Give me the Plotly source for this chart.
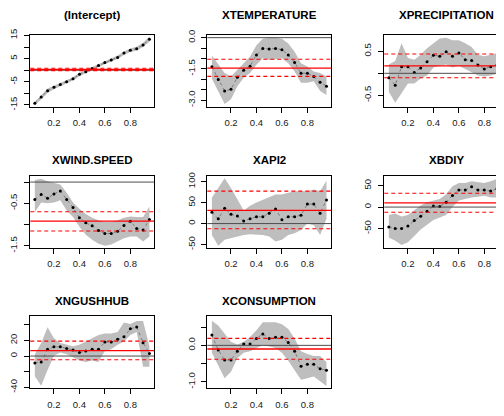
import plotly.graph_objects as go

taus = [0.05, 0.10, 0.15, 0.20, 0.25, 0.30, 0.35, 0.40, 0.45, 0.50,
        0.55, 0.60, 0.65, 0.70, 0.75, 0.80, 0.85, 0.90, 0.95]

names = ["(Intercept)", "XTEMPERATURE", "XPRECIPITATION", "XWIND.SPEED",
         "XAPI2", "XBDIY", "XNGUSHHUB", "XCONSUMPTION"]

intercept_coef = [-14.3, -11.6, -8.9, -7.4, -6.2, -5.0, -3.7, -1.8, -0.7, 0.7,
                  2.0, 3.3, 4.4, 5.5, 7.4, 8.6, 9.3, 10.9, 13.4]
intercept_lower = [-15.2, -12.4, -9.9, -8.2, -6.9, -5.7, -4.4, -2.6, -1.4, 0.0,
                   1.3, 2.6, 3.7, 4.8, 6.6, 7.8, 8.5, 10.0, 12.3]
intercept_upper = [-13.5, -10.8, -7.9, -6.6, -5.5, -4.3, -3.0, -1.1, 0.0, 1.4,
                   2.7, 4.0, 5.1, 6.3, 8.1, 9.4, 10.1, 11.8, 14.5]

temp_coef = [-1.40, -2.01, -2.56, -2.48, -1.90, -1.57, -1.37, -0.83, -0.52, -0.55,
             -0.52, -0.58, -0.83, -1.19, -1.71, -1.71, -1.87, -2.14, -2.33]
temp_lower = [-1.97, -2.60, -3.19, -2.96, -2.33, -1.93, -1.70, -1.30, -0.99, -1.07,
              -1.02, -0.99, -1.23, -1.62, -2.17, -2.17, -2.09, -2.56, -2.75]
temp_upper = [-0.86, -1.30, -1.70, -1.86, -1.54, -1.23, -0.91, -0.36, -0.05, 0.00,
              0.00, -0.05, -0.28, -0.68, -1.23, -1.38, -1.62, -1.70, -1.86]

prec_coef = [-0.10, -0.27, 0.15, 0.15, 0.02, 0.12, 0.26, 0.41, 0.39, 0.49,
             0.39, 0.46, 0.31, 0.29, 0.19, 0.10, 0.15, 0.19, 0.15]
prec_lower = [-0.42, -0.67, -0.45, -0.23, -0.23, -0.12, -0.05, 0.13, 0.17, 0.20,
              0.13, 0.17, 0.10, 0.02, -0.05, -0.07, -0.05, -0.01, -0.05]
prec_upper = [0.20, 0.28, 0.68, 0.35, 0.31, 0.42, 0.57, 0.68, 0.79, 0.81,
              0.75, 0.75, 0.68, 0.60, 0.42, 0.39, 0.42, 0.46, 0.39]

wind_coef = [-0.41, -0.29, -0.38, -0.28, -0.21, -0.41, -0.60, -0.84, -0.96, -1.03,
             -1.14, -1.21, -1.21, -1.16, -1.02, -0.92, -1.09, -1.13, -0.88]
wind_lower = [-0.71, -0.48, -0.50, -0.48, -0.43, -0.67, -0.82, -1.05, -1.24, -1.36,
              -1.45, -1.50, -1.47, -1.40, -1.32, -1.28, -1.28, -1.40, -1.28]
wind_upper = [0.05, 0.08, 0.02, -0.02, -0.06, -0.25, -0.48, -0.63, -0.75, -0.84,
              -0.90, -0.94, -0.94, -0.90, -0.84, -0.81, -0.82, -0.82, -0.58]

api_coef = [27.0, 11.6, 36.3, 22.4, 17.8, 6.2, 11.6, 16.2, 16.2, 24.7,
            34.8, 9.3, 16.2, 16.2, 20.0, 46.4, 46.4, 24.7, 56.4]
api_lower = [-27.0, -52.5, -38.6, -34.8, -31.0, -27.0, -25.5, -27.0, -27.0, -31.0,
             -42.5, -38.6, -27.0, -23.0, -15.5, 0.0, -3.9, -27.0, 11.6]
api_upper = [61.8, 85.0, 108.0, 85.0, 58.0, 31.0, 42.5, 50.0, 58.0, 63.4,
             69.5, 69.5, 73.4, 77.3, 77.3, 77.3, 81.0, 77.3, 102.0]

bdiy_coef = [-46.3, -50.0, -50.0, -44.0, -31.3, -21.6, -9.7, 2.2, 1.5, 11.2,
             26.9, 39.6, 39.6, 47.0, 39.6, 39.6, 37.3, 42.5, 33.6]
bdiy_lower = [-71.0, -78.0, -88.0, -82.0, -67.0, -52.0, -41.0, -30.0, -24.0, -18.7,
              0.0, 15.0, 18.7, 22.4, 24.0, 26.0, 22.4, 22.4, 15.0]
bdiy_upper = [-18.7, -15.0, -22.0, -18.7, -7.5, 3.7, 11.2, 15.0, 18.7, 30.0,
              48.5, 56.0, 56.0, 59.7, 58.0, 56.0, 59.7, 65.7, 59.7]

ngus_coef = [-8.9, -7.7, 8.5, 11.7, 11.7, 9.7, 7.7, 4.4, 6.5, 8.5,
             8.5, 17.8, 17.8, 21.4, 24.6, 34.7, 37.2, 17.0, 3.2]
ngus_lower = [-25.9, -38.0, -17.8, 0.4, 4.4, 2.4, -1.6, -5.7, -7.7, -5.7,
              -7.7, 6.5, 8.5, 14.5, 18.6, 26.7, 30.7, -13.7, -13.7]
ngus_upper = [2.4, 16.6, 36.8, 22.6, 16.6, 14.5, 12.5, 14.5, 18.6, 22.6,
              26.7, 28.7, 28.7, 30.7, 42.8, 40.8, 44.8, 44.8, 12.5]

cons_coef = [0.28, -0.13, -0.40, -0.40, -0.16, 0.04, 0.04, 0.19, 0.31, 0.19,
             0.22, 0.22, 0.08, -0.16, -0.57, -0.52, -0.52, -0.64, -0.68]
cons_lower = [-0.20, -0.55, -0.90, -0.72, -0.35, -0.20, -0.16, -0.07, 0.00, -0.03,
              -0.07, -0.20, -0.42, -0.68, -0.94, -0.90, -0.85, -0.98, -1.11]
cons_upper = [0.67, 0.54, 0.32, 0.10, 0.02, 0.10, 0.23, 0.41, 0.63, 0.64,
              0.63, 0.58, 0.45, 0.19, -0.16, -0.24, -0.29, -0.29, -0.46]

ols_est = [0.30, -1.46, 0.17, -0.92, 31.7, 9.7, 6.9, -0.10]
ols_low = [-0.20, -1.86, -0.10, -1.15, -12.4, -12.0, -4.8, -0.38]
ols_high = [0.85, -1.04, 0.44, -0.70, 77.3, 32.0, 19.0, 0.19]

x_tick_vals = [0.2, 0.4, 0.6, 0.8]
x_tick_text = ["0.2", "0.4", "0.6", "0.8"]

y_tick_vals = [[-15, -10, -5, 0, 5, 10, 15],
               [-3.0, -2.5, -2.0, -1.5, -1.0, -0.5, 0.0],
               [-0.5, 0.0, 0.5],
               [-1.5, -1.0, -0.5, 0.0],
               [-50, 0, 50, 100],
               [-50, 0, 50],
               [-40, -20, 0, 20, 40],
               [-1.0, -0.5, 0.0, 0.5]]
y_tick_text = [["-15", "", "-5", "", "5", "", "15"],
               ["-3.0", "", "", "-1.5", "", "", "0.0"],
               ["-0.5", "", "0.5"],
               ["-1.5", "", "-0.5", ""],
               ["-50", "0", "50", "100"],
               ["-50", "0", "50"],
               ["-40", "", "0", "20", ""],
               ["-1.0", "", "0.0", ""]]

coefs = [intercept_coef, temp_coef, prec_coef, wind_coef, api_coef, bdiy_coef, ngus_coef, cons_coef]
lowers = [intercept_lower, temp_lower, prec_lower, wind_lower, api_lower, bdiy_lower, ngus_lower, cons_lower]
uppers = [intercept_upper, temp_upper, prec_upper, wind_upper, api_upper, bdiy_upper, ngus_upper, cons_upper]

# layout geometry (figure pixels; page has an 8px body margin)
W, H = 504, 416
OFF = 8.0
col_left = [29.3 - OFF, 206.7 - OFF, 384.0 - OFF]
box_w = 124.0
row_top = [29.3 - OFF, 174.3 - OFF, 318.3 - OFF]
box_h = 74.0
title_gap = [20.5, 16.5, 15.5]
y_ranges = [[-15.8, 15.3], [-3.32, 0.14], [-0.76, 0.876], [-1.55, 0.145],
            [-58, 113.6], [-95, 72.4], [-41, 51], [-1.17, 0.8]]
x_full = [0.014, 0.986]

FONT = "Arial, Liberation Sans, sans-serif"
fig = go.Figure()
layout = {}

for i in range(len(names)):
    r, c = divmod(i, 3)
    sfx = "" if i == 0 else str(i + 1)
    xa, ya = "x" + sfx, "y" + sfx
    fig.add_trace(go.Scatter(
        x=taus + taus[::-1], y=lowers[i] + uppers[i][::-1],
        fill="toself", fillcolor="#BEBEBE", line=dict(width=0, color="#BEBEBE"),
        mode="lines", xaxis=xa, yaxis=ya, hoverinfo="skip", showlegend=False))
    fig.add_trace(go.Scatter(
        x=taus, y=coefs[i], mode="lines+markers",
        line=dict(color="rgba(0,0,0,0.7)", width=0.5, dash="3px,3px"),
        marker=dict(size=3, color="black"),
        xaxis=xa, yaxis=ya, showlegend=False))
    fig.add_shape(type="line", xref=xa + " domain", yref=ya, x0=0, x1=1, y0=0, y1=0,
                  line=dict(color="#4D4D4D", width=1))
    fig.add_shape(type="line", xref=xa + " domain", yref=ya, x0=0, x1=1,
                  y0=ols_est[i], y1=ols_est[i], line=dict(color="#FF0000", width=1.3))
    for v in (ols_low[i], ols_high[i]):
        fig.add_shape(type="line", xref=xa + " domain", yref=ya, x0=0, x1=1,
                      y0=v, y1=v, line=dict(color="#FF0000", width=1.1, dash="4px,3px"))

    left = col_left[c]
    right = left + box_w
    top = row_top[r]
    bottom = top + box_h
    layout["xaxis" + sfx] = dict(
        domain=[left / W, right / W], range=x_full, anchor=ya,
        tickvals=x_tick_vals, ticktext=x_tick_text,
        ticks="outside", ticklen=5, tickwidth=1, tickcolor="black",
        showline=True, linecolor="black", linewidth=1, mirror=True,
        showgrid=False, zeroline=False, ticklabelstandoff=2,
        tickfont=dict(family=FONT, size=9.5, color="#1a1a1a"))
    layout["yaxis" + sfx] = dict(
        domain=[1 - bottom / H, 1 - top / H], range=y_ranges[i], anchor=xa,
        tickvals=y_tick_vals[i], ticktext=y_tick_text[i], tickangle=-90,
        ticks="outside", ticklen=5, tickwidth=1, tickcolor="black",
        showline=True, linecolor="black", linewidth=1, mirror=True,
        showgrid=False, zeroline=False, ticklabelstandoff=3,
        tickfont=dict(family=FONT, size=9.5, color="#1a1a1a"))
    fig.add_annotation(
        text=names[i], xref="paper", yref="paper",
        x=(left + box_w / 2) / W, y=1 - (top - title_gap[r]) / H,
        xanchor="center", yanchor="middle", showarrow=False,
        font=dict(family=FONT, size=11.5, color="black", weight="bold"))

fig.update_layout(
    width=W, height=H, margin=dict(l=0, r=0, t=0, b=0),
    paper_bgcolor="white", plot_bgcolor="white", showlegend=False,
    **layout)

fig.write_html("out.html", config={"displayModeBar": False})
